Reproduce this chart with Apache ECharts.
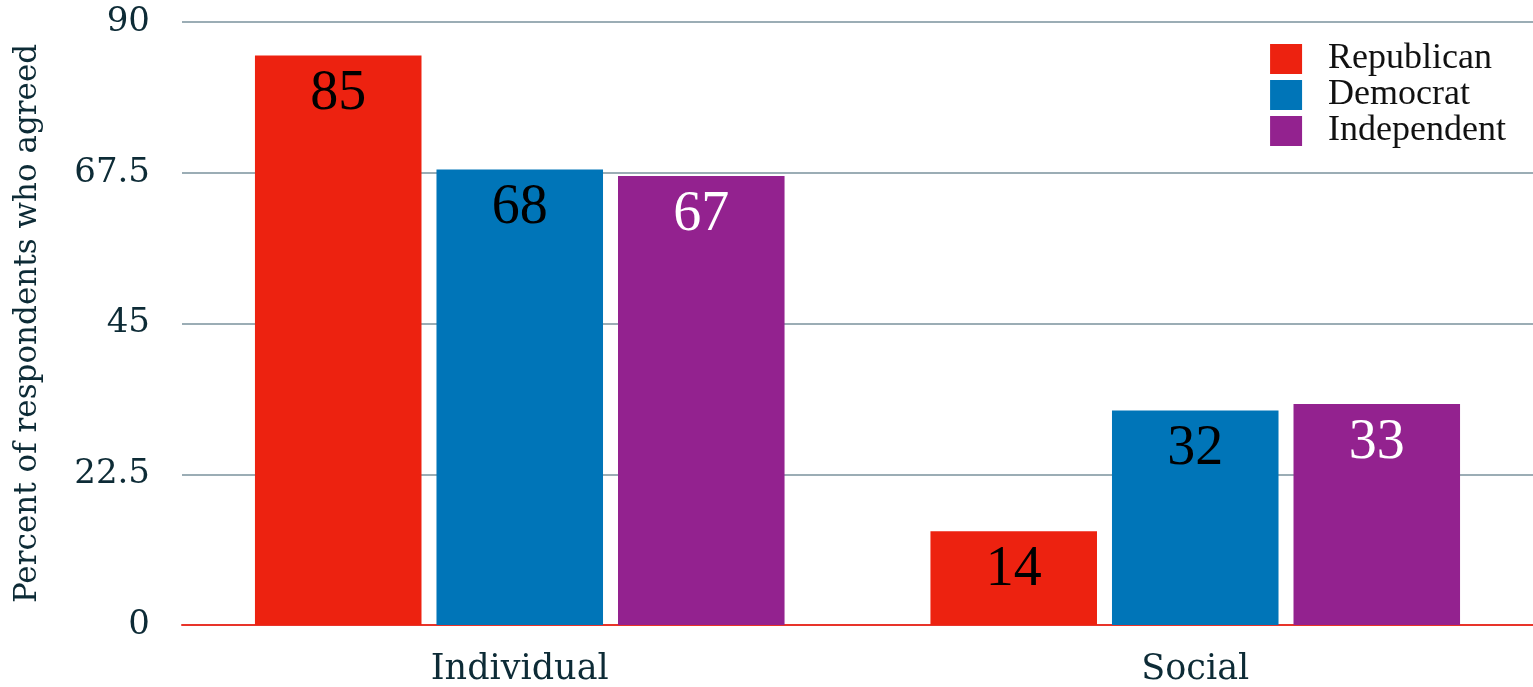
<!DOCTYPE html>
<html>
<head>
<meta charset="utf-8">
<script src="https://cdn.jsdelivr.net/npm/echarts@6/dist/echarts.min.js"></script>
<style>
  html, body { margin: 0; padding: 0; background: #ffffff; }
  #chart { width: 1533px; height: 687px; }
</style>
</head>
<body>
<div id="chart"></div>
<script>
// Share of respondents who agreed, by party and framing
const categories = ['Individual', 'Social'];
const republican = [85, 14];
const democrat = [68, 32];
const independent = [67, 33];
const seriesNames = ['Republican', 'Democrat', 'Independent'];
const yTicks = { min: 0, max: 90, interval: 22.5 };

const colors = ['#ED2210', '#0075B8', '#93228F'];
const labelColors = ['#000000', '#000000', '#ffffff'];
const inkColor = '#0d2b36';
const axisFont = 'DejaVu Serif';
const markFont = 'Liberation Serif';

function barSeries(name, values, idx) {
  return {
    name: name,
    type: 'bar',
    data: values,
    barGap: '9%',
    barCategoryGap: '21.6%',
    itemStyle: { color: colors[idx] },
    label: {
      show: true,
      position: 'insideTop',
      distance: 11,
      color: labelColors[idx],
      fontFamily: markFont,
      fontSize: 56
    }
  };
}

const chart = echarts.init(document.getElementById('chart'), null, { renderer: 'canvas' });
chart.setOption({
  animation: false,
  backgroundColor: '#ffffff',
  grid: { left: 182, right: 0, top: 22, bottom: 62, containLabel: false },
  legend: {
    orient: 'vertical',
    right: 22,
    top: 36,
    itemWidth: 32,
    itemHeight: 30,
    itemGap: 0,
    icon: 'rect',
    data: seriesNames,
    textStyle: {
      fontFamily: markFont,
      fontSize: 36,
      color: '#111111',
      padding: [0, 0, 0, 21]
    }
  },
  xAxis: {
    type: 'category',
    data: categories,
    axisTick: { show: false },
    axisLine: { lineStyle: { color: '#e8342a', width: 2 } },
    axisLabel: {
      fontFamily: axisFont,
      fontSize: 35,
      color: inkColor,
      margin: 27
    }
  },
  yAxis: {
    type: 'value',
    min: yTicks.min,
    max: yTicks.max,
    interval: yTicks.interval,
    name: 'Percent of respondents who agreed',
    nameLocation: 'middle',
    nameGap: 139,
    nameTextStyle: {
      fontFamily: axisFont,
      fontSize: 31,
      color: inkColor
    },
    axisLine: { show: false },
    axisTick: { show: false },
    splitLine: { lineStyle: { color: '#7a929c', width: 1.5 } },
    axisLabel: {
      fontFamily: axisFont,
      fontSize: 34,
      color: inkColor,
      margin: 32
    }
  },
  series: [
    barSeries(seriesNames[0], republican, 0),
    barSeries(seriesNames[1], democrat, 1),
    barSeries(seriesNames[2], independent, 2)
  ]
});
</script>
</body>
</html>
